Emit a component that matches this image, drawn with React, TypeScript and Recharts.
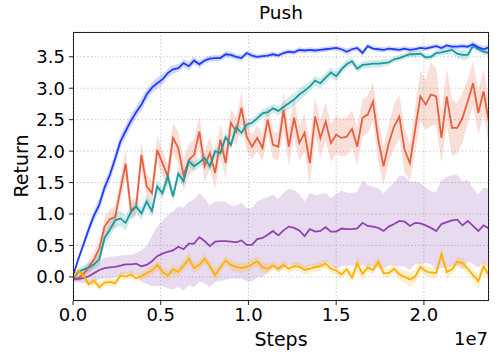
import { ComposedChart, Line, Area, XAxis, YAxis, CartesianGrid } from 'recharts';

// x in units of 1e7 steps
const steps = [
  0, 0.03, 0.06, 0.09, 0.12, 0.15, 0.18, 0.21, 0.24, 0.27,
  0.3, 0.33, 0.36, 0.39, 0.42, 0.45, 0.48, 0.51, 0.54, 0.57,
  0.6, 0.63, 0.66, 0.69, 0.72, 0.75, 0.78, 0.81, 0.84, 0.87,
  0.9, 0.93, 0.96, 0.99, 1.02, 1.05, 1.08, 1.11, 1.14, 1.17,
  1.2, 1.23, 1.26, 1.29, 1.32, 1.35, 1.38, 1.41, 1.44, 1.47,
  1.5, 1.53, 1.56, 1.59, 1.62, 1.65, 1.68, 1.71, 1.74, 1.77,
  1.8, 1.83, 1.86, 1.89, 1.92, 1.95, 1.98, 2.01, 2.04, 2.07,
  2.1, 2.13, 2.16, 2.19, 2.22, 2.25, 2.28, 2.31, 2.34, 2.37,
];

const blue = [
  0.02, 0.28, 0.52, 0.76, 0.98, 1.15, 1.42, 1.62, 1.88, 2.15,
  2.32, 2.48, 2.62, 2.74, 2.9, 3.01, 3.08, 3.14, 3.24, 3.3,
  3.32, 3.4, 3.35, 3.44, 3.38, 3.44, 3.47, 3.48, 3.48, 3.54,
  3.53, 3.5, 3.48, 3.56, 3.52, 3.5, 3.51, 3.52, 3.54, 3.52,
  3.56, 3.58, 3.57, 3.61, 3.6, 3.61, 3.6, 3.61, 3.62, 3.63,
  3.64, 3.62, 3.58, 3.62, 3.64, 3.56, 3.67, 3.63, 3.62, 3.61,
  3.63, 3.62, 3.61, 3.63, 3.61, 3.62, 3.64, 3.63, 3.65, 3.67,
  3.64, 3.68, 3.66, 3.66, 3.67, 3.66, 3.7, 3.65, 3.62, 3.65,
];
const blueStd = [
  0.02, 0.05, 0.07, 0.08, 0.09, 0.1, 0.1, 0.1, 0.11, 0.1,
  0.1, 0.1, 0.09, 0.1, 0.09, 0.08, 0.09, 0.08, 0.07, 0.07,
  0.06, 0.06, 0.07, 0.06, 0.06, 0.05, 0.05, 0.05, 0.05, 0.05,
  0.05, 0.05, 0.05, 0.04, 0.05, 0.04, 0.04, 0.04, 0.04, 0.04,
  0.04, 0.04, 0.04, 0.04, 0.04, 0.04, 0.04, 0.04, 0.04, 0.04,
  0.04, 0.04, 0.05, 0.04, 0.04, 0.05, 0.04, 0.04, 0.04, 0.04,
  0.04, 0.04, 0.04, 0.04, 0.04, 0.04, 0.04, 0.04, 0.04, 0.04,
  0.04, 0.04, 0.04, 0.04, 0.04, 0.04, 0.05, 0.05, 0.05, 0.05,
];

const teal = [
  -0.03, 0.08, 0.12, 0.15, 0.2, 0.28, 0.62, 0.75, 0.9, 0.93,
  0.86, 1.03, 1.12, 1.01, 1.2, 1.05, 1.44, 1.33, 1.6, 1.28,
  1.64, 1.52, 1.84, 1.76, 1.82, 1.89, 1.76, 2.0, 1.97, 2.22,
  2.1, 2.38, 2.29, 2.42, 2.45, 2.52, 2.6, 2.62, 2.68, 2.64,
  2.7, 2.76, 2.82, 2.9, 2.96, 3.03, 3.12, 3.08, 3.17, 3.25,
  3.19, 3.3, 3.38, 3.43, 3.31, 3.37, 3.38, 3.39, 3.39, 3.4,
  3.41, 3.46, 3.48, 3.51, 3.54, 3.54, 3.55, 3.49, 3.5, 3.56,
  3.57, 3.59, 3.61, 3.55, 3.53, 3.53, 3.67, 3.62, 3.58, 3.56,
];
const tealStd = [
  0.03, 0.05, 0.06, 0.07, 0.08, 0.1, 0.12, 0.12, 0.12, 0.12,
  0.12, 0.1, 0.1, 0.1, 0.1, 0.1, 0.1, 0.09, 0.1, 0.1,
  0.1, 0.08, 0.08, 0.08, 0.08, 0.08, 0.08, 0.08, 0.08, 0.08,
  0.08, 0.08, 0.08, 0.07, 0.07, 0.07, 0.07, 0.07, 0.07, 0.07,
  0.08, 0.1, 0.1, 0.1, 0.09, 0.08, 0.08, 0.08, 0.08, 0.08,
  0.08, 0.07, 0.07, 0.06, 0.06, 0.06, 0.06, 0.06, 0.06, 0.06,
  0.05, 0.05, 0.05, 0.05, 0.05, 0.05, 0.05, 0.05, 0.05, 0.05,
  0.05, 0.05, 0.05, 0.07, 0.08, 0.07, 0.05, 0.05, 0.05, 0.05,
];

const orange = [
  -0.05, -0.02, 0.05, 0.16, 0.28, 0.45, 0.8, 0.92, 0.95, 1.38,
  1.8, 1.06, 1.12, 1.94, 1.44, 1.33, 2.02, 1.81, 1.6, 2.21,
  2.05, 1.62, 1.86, 1.94, 2.31, 1.76, 1.97, 1.65, 2.18, 1.81,
  2.45, 2.31, 2.69, 2.23, 2.07, 2.21, 2.05, 2.5, 2.1, 2.07,
  2.65, 2.07, 2.53, 2.13, 2.29, 1.81, 2.55, 2.21, 2.47, 2.13,
  2.26, 2.21, 2.23, 2.35, 2.07, 2.53, 2.58, 2.79, 2.18, 1.76,
  2.13, 2.39, 2.55, 2.02, 1.81, 2.34, 2.87, 2.74, 2.9, 2.87,
  2.21, 2.87, 2.37, 2.37, 2.53, 2.79, 3.08, 2.61, 2.95, 2.47,
];
const orangeStd = [
  0.05, 0.06, 0.08, 0.1, 0.12, 0.14, 0.15, 0.15, 0.18, 0.18,
  0.22, 0.15, 0.15, 0.2, 0.2, 0.2, 0.22, 0.2, 0.2, 0.25,
  0.25, 0.25, 0.25, 0.25, 0.25, 0.25, 0.25, 0.25, 0.25, 0.25,
  0.22, 0.22, 0.25, 0.22, 0.2, 0.2, 0.22, 0.22, 0.22, 0.22,
  0.3, 0.3, 0.3, 0.28, 0.3, 0.35, 0.3, 0.3, 0.3, 0.3,
  0.3, 0.3, 0.3, 0.3, 0.3, 0.3, 0.3, 0.3, 0.35, 0.3,
  0.3, 0.35, 0.35, 0.35, 0.3, 0.35, 0.4, 0.4, 0.5, 0.45,
  0.4, 0.45, 0.45, 0.4, 0.4, 0.35, 0.35, 0.35, 0.35, 0.4,
];

const purple = [
  -0.03, -0.03, -0.02, 0.01, 0.06, 0.11, 0.14, 0.15, 0.16, 0.18,
  0.2, 0.2, 0.21, 0.17, 0.19, 0.25, 0.33, 0.37, 0.4, 0.42,
  0.48, 0.44, 0.53, 0.53, 0.63, 0.57, 0.49, 0.56, 0.57, 0.57,
  0.56, 0.55, 0.58, 0.51, 0.51, 0.6, 0.62, 0.67, 0.73, 0.66,
  0.74, 0.8, 0.78, 0.74, 0.65, 0.76, 0.72, 0.73, 0.79, 0.72,
  0.72, 0.77, 0.76, 0.76, 0.77, 0.86, 0.81, 0.8, 0.78, 0.73,
  0.8, 0.84, 0.89, 0.88, 0.81, 0.86, 0.85, 0.82, 0.78, 0.73,
  0.84, 0.87, 0.9, 0.91, 0.82, 0.89, 0.81, 0.73, 0.82, 0.77,
];
const purpleStd = [
  0.02, 0.05, 0.08, 0.12, 0.14, 0.15, 0.16, 0.17, 0.17, 0.16,
  0.15, 0.15, 0.17, 0.25, 0.3, 0.4, 0.47, 0.52, 0.58, 0.62,
  0.64, 0.66, 0.66, 0.7, 0.7, 0.68, 0.65, 0.64, 0.63, 0.62,
  0.58, 0.58, 0.6, 0.58, 0.58, 0.6, 0.62, 0.6, 0.58, 0.58,
  0.6, 0.6, 0.6, 0.58, 0.55, 0.58, 0.58, 0.58, 0.55, 0.53,
  0.6, 0.6, 0.58, 0.58, 0.58, 0.68, 0.65, 0.63, 0.63, 0.6,
  0.62, 0.66, 0.72, 0.72, 0.7, 0.66, 0.64, 0.6, 0.58, 0.62,
  0.7, 0.72, 0.72, 0.72, 0.7, 0.65, 0.6, 0.58, 0.6, 0.63,
];

const yellow = [
  0.0, 0.1, 0.02, -0.12, -0.06, -0.16, -0.09, -0.08, -0.1, 0.02,
  0.01, 0.04, -0.02, 0.01, 0.06, 0.1, 0.19, 0.08, 0.02, 0.12,
  0.08, 0.18, 0.29, 0.14, 0.19, 0.29, 0.17, 0.03, 0.15, 0.26,
  0.19, 0.16, 0.14, 0.16, 0.2, 0.25, 0.15, 0.13, 0.18, 0.13,
  0.19, 0.13, 0.17, 0.16, 0.11, 0.13, 0.15, 0.17, 0.21, 0.13,
  0.1, 0.04, 0.12, -0.01, 0.21, 0.05, 0.15, 0.11, 0.24, 0.06,
  0.06, 0.13, 0.04, 0.0, -0.04, 0.0, 0.16, 0.09, 0.07, 0.06,
  0.36, 0.08, 0.12, 0.24, 0.22, 0.13, 0.03, -0.07, 0.17, 0.03,
];
const yellowStd = [
  0.03, 0.05, 0.06, 0.06, 0.06, 0.06, 0.06, 0.06, 0.06, 0.06,
  0.06, 0.06, 0.06, 0.06, 0.07, 0.08, 0.08, 0.08, 0.08, 0.08,
  0.08, 0.08, 0.1, 0.08, 0.08, 0.08, 0.08, 0.1, 0.08, 0.08,
  0.08, 0.08, 0.08, 0.08, 0.08, 0.08, 0.08, 0.08, 0.07, 0.07,
  0.07, 0.07, 0.07, 0.07, 0.07, 0.07, 0.07, 0.07, 0.07, 0.07,
  0.07, 0.07, 0.07, 0.08, 0.14, 0.08, 0.07, 0.07, 0.08, 0.07,
  0.07, 0.07, 0.08, 0.1, 0.12, 0.1, 0.08, 0.08, 0.08, 0.08,
  0.1, 0.1, 0.08, 0.08, 0.08, 0.08, 0.08, 0.12, 0.1, 0.08,
];

const xTicks = [0, 0.5, 1, 1.5, 2];
const yTicks = [0, 0.5, 1, 1.5, 2, 2.5, 3, 3.5];

const series = [
  { key: 'orange', values: orange, std: orangeStd, color: '#e5603e' },
  { key: 'teal', values: teal, std: tealStd, color: '#1a9a9c' },
  { key: 'blue', values: blue, std: blueStd, color: '#1e3cff' },
  { key: 'purple', values: purple, std: purpleStd, color: '#8e44ad' },
  { key: 'yellow', values: yellow, std: yellowStd, color: '#ffb000' },
];

const chartData = steps.map((step, i) => {
  const row: { [key: string]: number | number[] } = { step };
  series.forEach((s) => {
    row[s.key] = s.values[i];
    row[s.key + 'Band'] = [s.values[i] - s.std[i], s.values[i] + s.std[i]];
  });
  return row;
});

const font = '"DejaVu Sans", sans-serif';

export default function App() {
  return (
    <div style={{ position: 'absolute', left: 0, top: 0, width: 500, height: 362, background: '#fff', fontFamily: font }}>
      <ComposedChart width={500} height={362} data={chartData} margin={{ top: 32, right: 11, bottom: 31, left: 0 }}>
        <CartesianGrid stroke="#b0b0b0" strokeWidth={0.8} strokeDasharray="1.2 2.4" />
        <XAxis
          dataKey="step"
          type="number"
          domain={[0, 2.371]}
          allowDataOverflow
          ticks={xTicks}
          tickFormatter={(v: number) => v.toFixed(1)}
          height={30}
          tickSize={4}
          tickMargin={3}
          axisLine={false}
          tickLine={{ stroke: '#222' }}
          tick={{ fill: '#000', fontSize: 18, fontFamily: font }}
        />
        <YAxis
          type="number"
          domain={[-0.383, 3.894]}
          allowDataOverflow
          ticks={yTicks}
          tickFormatter={(v: number) => v.toFixed(1)}
          width={73}
          tickSize={4}
          tickMargin={4}
          axisLine={false}
          tickLine={{ stroke: '#222' }}
          tick={{ fill: '#000', fontSize: 18, fontFamily: font }}
        />
        {series.map((s) => (
          <Area
            key={s.key + 'Band'}
            dataKey={s.key + 'Band'}
            type="linear"
            stroke="none"
            fill={s.color}
            fillOpacity={0.2}
            isAnimationActive={false}
          />
        ))}
        {series.map((s) => (
          <Line
            key={s.key}
            dataKey={s.key}
            type="linear"
            stroke={s.color}
            strokeWidth={1.8}
            dot={false}
            isAnimationActive={false}
          />
        ))}
      </ComposedChart>
      <div style={{ position: 'absolute', left: 73, top: 32, width: 416, height: 269, border: '1px solid #222', boxSizing: 'border-box', pointerEvents: 'none' }} />
      <div style={{ position: 'absolute', left: 73, width: 416, top: 0, textAlign: 'center', fontSize: 18.5, lineHeight: '26px' }}>Push</div>
      <div style={{ position: 'absolute', left: 73, width: 416, top: 326, textAlign: 'center', fontSize: 19, lineHeight: '26px' }}>Steps</div>
      <div style={{ position: 'absolute', right: 12, top: 326, fontSize: 18, lineHeight: '26px' }}>1e7</div>
      <div style={{ position: 'absolute', left: 21, top: 166, width: 0, height: 0 }}>
        <div style={{ position: 'absolute', left: -50, top: -13, width: 100, textAlign: 'center', fontSize: 19, lineHeight: '26px', transform: 'rotate(-90deg)' }}>Return</div>
      </div>
    </div>
  );
}
